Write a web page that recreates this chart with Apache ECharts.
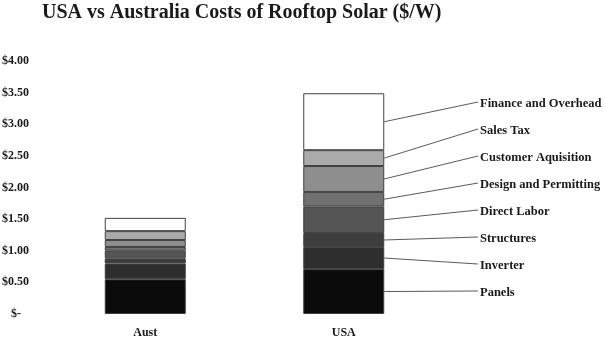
<!DOCTYPE html>
<html>
<head>
<meta charset="utf-8">
<script src="https://cdn.jsdelivr.net/npm/echarts@6/dist/echarts.min.js"></script>
<style>
  html, body { margin: 0; padding: 0; background: #ffffff; }
  #chart { width: 605px; height: 338px; }
</style>
</head>
<body>
<div id="chart"></div>
<script>
// Cost components, bottom of the stack first ($/W)
const categories = ['Aust', 'USA'];
const components = ['Panels', 'Inverter', 'Structures', 'Direct Labor',
  'Design and Permitting', 'Customer Aquisition', 'Sales Tax', 'Finance and Overhead'];
const austCosts = [0.55, 0.25, 0.08, 0.12, 0.06, 0.11, 0.14, 0.21];
const usaCosts  = [0.71, 0.35, 0.22, 0.42, 0.23, 0.41, 0.25, 0.90];
const yTicks = [0, 0.5, 1, 1.5, 2, 2.5, 3, 3.5, 4];

const shades = ['#0b0b0b', '#2e2e2e', '#3d3d3d', '#555555',
  '#707070', '#8e8e8e', '#aaaaaa', '#ffffff'];
const serif = '"Liberation Serif", "Times New Roman", serif';
const BAR_W = 81;

// midpoint of each USA segment, where its leader line starts
const usaMids = [];
let acc = 0;
usaCosts.forEach(v => { usaMids.push(acc + v / 2); acc += v; });

const barSeries = components.map((name, i) => ({
  name: name,
  type: 'bar',
  stack: 'cost',
  barWidth: BAR_W,
  data: [austCosts[i], usaCosts[i]],
  itemStyle: { color: shades[i], borderColor: '#404040', borderWidth: 1 },
  emphasis: { disabled: true },
  animation: false
}));

// leader lines and names to the right of the USA column
const calloutSeries = {
  type: 'custom',
  clip: false,
  silent: true,
  animation: false,
  data: usaMids.map(m => [1, m]),
  renderItem: function (params, api) {
    const i = params.dataIndex;
    const p = api.coord([api.value(0), api.value(1)]);
    const x0 = p[0] + BAR_W / 2;
    const labelX = 480;
    const labelY = 104 + (components.length - 1 - i) * 27;
    return {
      type: 'group',
      children: [
        {
          type: 'line',
          shape: { x1: x0, y1: p[1], x2: labelX - 2, y2: labelY - 2 },
          style: { stroke: '#5a5a5a', lineWidth: 1 }
        },
        {
          type: 'text',
          x: labelX,
          y: labelY,
          style: {
            text: components[i],
            fill: '#1a1a1a',
            font: 'bold 12.5px ' + serif,
            verticalAlign: 'middle',
            align: 'left'
          }
        }
      ]
    };
  }
};

const chart = echarts.init(document.getElementById('chart'), null, { renderer: 'canvas' });
chart.setOption({
  backgroundColor: '#ffffff',
  animation: false,
  title: {
    text: 'USA vs Australia Costs of Rooftop Solar ($/W)',
    left: 37,
    top: -2,
    textStyle: { fontFamily: serif, fontWeight: 'bold', fontSize: 20, color: '#1a1a1a' }
  },
  grid: { left: 46, right: 162, top: 61, bottom: 24, containLabel: false, outerBoundsMode: 'none' },
  xAxis: {
    type: 'category',
    data: categories,
    axisLine: { show: false },
    axisTick: { show: false },
    axisLabel: { fontFamily: serif, fontWeight: 'bold', fontSize: 12, color: '#1a1a1a', margin: 13 }
  },
  yAxis: {
    type: 'value',
    min: yTicks[0],
    max: yTicks[yTicks.length - 1],
    interval: yTicks[1] - yTicks[0],
    splitLine: { show: false },
    axisLine: { show: false },
    axisTick: { show: false },
    axisLabel: {
      fontFamily: serif, fontWeight: 'bold', fontSize: 12, color: '#1a1a1a', margin: 17,
      formatter: v => v === 0 ? '{z|$-}' : '$' + v.toFixed(2),
      rich: { z: { fontFamily: serif, fontWeight: 'bold', fontSize: 12, color: '#1a1a1a', padding: [0, 8, 0, 0] } }
    }
  },
  series: barSeries.concat([calloutSeries])
});
</script>
</body>
</html>
